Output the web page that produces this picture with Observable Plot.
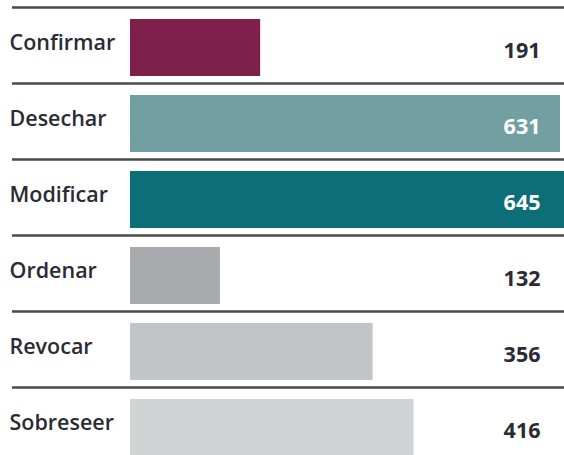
<!DOCTYPE html>
<html>
<head>
<meta charset="utf-8">
<script src="https://cdn.jsdelivr.net/npm/d3@7"></script>
<script src="https://cdn.jsdelivr.net/npm/@observablehq/plot@0.6"></script>
<style>
  html, body { margin: 0; padding: 0; background: #fff; overflow: hidden; }
  #chart svg { overflow: hidden; }
</style>
</head>
<body>
<div id="chart"></div>
<script>
const categories = ["Confirmar", "Desechar", "Modificar", "Ordenar", "Revocar", "Sobreseer"];
const values = [191, 631, 645, 132, 356, 416];
const barColors = ["#7e1f4c", "#72a0a2", "#0d6e78", "#a9aaad", "#c3c4c7", "#d2d3d5"];
const valueColors = ["#2b2b33", "#ffffff", "#ffffff", "#2b2b33", "#2b2b33", "#2b2b33"];

const data = categories.map((c, i) => ({
  category: c,
  value: values[i],
  color: barColors[i],
  textColor: valueColors[i]
}));

const font = "'Open Sans', sans-serif";

const chart = Plot.plot({
  width: 564,
  height: 455,
  marginLeft: 12,
  marginRight: 0,
  marginTop: 0,
  marginBottom: 0,
  style: { fontFamily: font, background: "#fff" },
  x: { domain: [0, 631], range: [130, 560], axis: null },
  y: { domain: categories, range: [7, 467], paddingInner: 0.25, paddingOuter: 0.125, axis: null },
  marks: [
    Plot.ruleY(data, { y: "category", stroke: "#4a4a4a", strokeWidth: 2.5, dy: -40.5 }),
    Plot.barX(data, { y: "category", x: "value", fill: "color" }),
    Plot.text(data, {
      y: "category", text: "category", frameAnchor: "left", textAnchor: "start",
      dx: -3, dy: -5, fontSize: 21.5, fontWeight: 600, fill: "#2b2b33", fontFamily: font
    }),
    Plot.text(data, {
      y: "category", text: d => String(d.value), frameAnchor: "right", textAnchor: "end",
      dx: -24, dy: 3, fontSize: 21.5, fontWeight: 700, fill: "textColor", fontFamily: font
    })
  ]
});
document.getElementById("chart").appendChild(chart);
</script>
</body>
</html>
